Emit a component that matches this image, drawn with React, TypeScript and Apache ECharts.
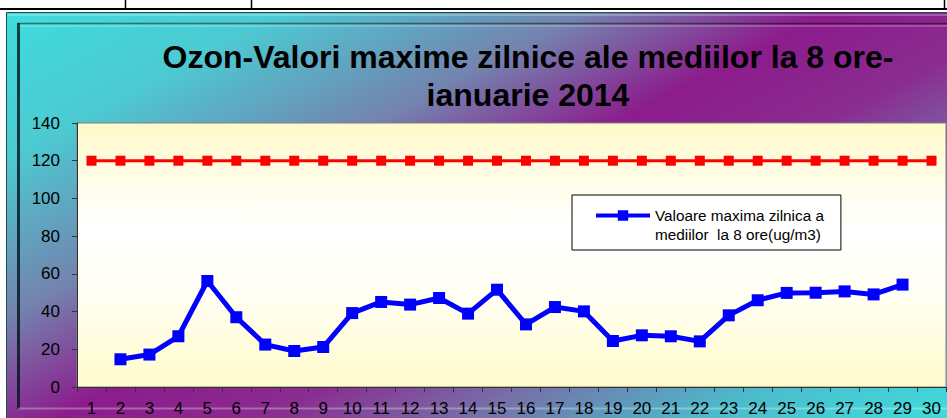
import React, { useEffect, useRef } from "react";
import * as echarts from "echarts";

const days = Array.from({ length: 30 }, (_, i) => String(i + 1));
const limitValues = [120, 120, 120, 120, 120, 120, 120, 120, 120, 120, 120, 120, 120, 120, 120, 120, 120, 120, 120, 120, 120, 120, 120, 120, 120, 120, 120, 120, 120, 120];
const ozoneValues = [null, 14.7, 17.2, 26.9, 56.2, 37.0, 22.5, 19.1, 21.2, 39.2, 45.1, 43.7, 47.2, 38.9, 51.6, 33.2, 42.4, 40.1, 24.4, 27.4, 26.9, 24.2, 38.0, 46.0, 49.9, 50.0, 50.7, 49.1, 54.3, null];
const titleText = "Ozon-Valori maxime zilnice ale mediilor la 8 ore-\nianuarie 2014";
const legendLine1 = "Valoare maxima zilnica a";
const legendLine2 = "mediilor  la 8 ore(ug/m3)";
const seriesName = "Valoare maxima zilnica a mediilor  la 8 ore(ug/m3)";

const FONT = '"Liberation Sans", Arial, sans-serif';

export default function App() {
  const ref = useRef<HTMLDivElement>(null);
  useEffect(() => {
    if (!ref.current) return;
    const chart = echarts.init(ref.current, null, { renderer: "svg" });
    const frameGradient = new echarts.graphic.LinearGradient(
      6, 12, 378, 718,
      [
        { offset: 0, color: "#3edcdc" },
        { offset: 0.16, color: "#4ccad2" },
        { offset: 0.34, color: "#7482ae" },
        { offset: 0.48, color: "#8c1c8c" },
        { offset: 0.6, color: "#8a2c90" },
        { offset: 0.72, color: "#7670a8" },
        { offset: 0.86, color: "#4cbccc" },
        { offset: 1, color: "#3edcdc" },
      ],
      true
    );
    const option: any = {
      animation: false,
      backgroundColor: "#ffffff",
      grid: {
        left: 77,
        right: 1,
        top: 123,
        bottom: 31,
        show: true,
        borderColor: "#808080",
        borderWidth: 1,
        backgroundColor: new echarts.graphic.LinearGradient(0, 0, 0, 1, [
          { offset: 0, color: "#fffacb" },
          { offset: 0.4, color: "#ffffff" },
          { offset: 0.65, color: "#fffef2" },
          { offset: 1, color: "#fffbcb" },
        ]),
      },
      legend: {
        data: [seriesName],
        left: 572,
        top: 195,
        itemWidth: 54,
        itemHeight: 13,
        padding: [13, 17, 27, 22],
        backgroundColor: "#ffffff",
        borderColor: "#000000",
        borderWidth: 1,
        selectedMode: false,
        formatter: () => legendLine1,
        lineStyle: { width: 4 },
        textStyle: { fontSize: 15.3, color: "#000", fontFamily: FONT },
      },
      xAxis: {
        type: "category",
        data: days,
        boundaryGap: true,
        axisLine: { lineStyle: { color: "#333333", width: 1 } },
        axisTick: { show: true, length: 5, lineStyle: { color: "#333333" } },
        axisLabel: { interval: 0, fontSize: 17, color: "#000", fontFamily: FONT, margin: 13 },
        splitLine: { show: false },
      },
      yAxis: {
        type: "value",
        min: 0,
        max: 140,
        interval: 20,
        axisLine: { show: true, lineStyle: { color: "#333333", width: 1 } },
        axisTick: { show: true, length: 5, lineStyle: { color: "#333333" } },
        axisLabel: { fontSize: 17, color: "#000", fontFamily: FONT, margin: 17 },
        splitLine: { show: false },
      },
      series: [
        {
          name: "Limita",
          type: "line",
          data: limitValues,
          symbol: "rect",
          symbolSize: 10,
          lineStyle: { color: "#ff0000", width: 3 },
          itemStyle: { color: "#ff0000" },
          z: 3,
        },
        {
          name: seriesName,
          type: "line",
          data: ozoneValues,
          symbol: "rect",
          symbolSize: 12,
          lineStyle: { color: "#0000ff", width: 5 },
          itemStyle: { color: "#0000ff" },
          z: 4,
        },
      ],
      graphic: [
        // document table strip
        { type: "line", shape: { x1: 0, y1: 9, x2: 947, y2: 9 }, style: { stroke: "#000", lineWidth: 2 }, z: -5 },
        { type: "line", shape: { x1: 125.5, y1: 0, x2: 125.5, y2: 9 }, style: { stroke: "#000", lineWidth: 1.5 }, z: -5 },
        { type: "line", shape: { x1: 251.5, y1: 0, x2: 251.5, y2: 9 }, style: { stroke: "#000", lineWidth: 1.5 }, z: -5 },
        { type: "line", shape: { x1: 944.5, y1: 0, x2: 944.5, y2: 9 }, style: { stroke: "#000", lineWidth: 1.5 }, z: -5 },
        // chart frame
        {
          type: "rect",
          shape: { x: 6.5, y: 12.5, width: 960, height: 420 },
          style: { fill: frameGradient, stroke: "#1d4f55", lineWidth: 1 },
          z: -10,
          silent: true,
        },
        { type: "line", shape: { x1: 8, y1: 15, x2: 947, y2: 15 }, style: { stroke: "rgba(255,255,255,0.25)", lineWidth: 2 }, z: -9 },
        { type: "line", shape: { x1: 18, y1: 23.5, x2: 947, y2: 23.5 }, style: { stroke: "rgba(0,0,0,0.45)", lineWidth: 1.5 }, z: -9 },
        { type: "line", shape: { x1: 18, y1: 26, x2: 947, y2: 26 }, style: { stroke: "rgba(255,255,255,0.2)", lineWidth: 2 }, z: -9 },
        { type: "line", shape: { x1: 18.5, y1: 23, x2: 18.5, y2: 409 }, style: { stroke: "rgba(0,20,30,0.8)", lineWidth: 3 }, z: -9 },
        { type: "line", shape: { x1: 18, y1: 408.5, x2: 947, y2: 408.5 }, style: { stroke: "rgba(255,255,255,0.3)", lineWidth: 2 }, z: -9 },
        // title
        {
          type: "text",
          x: 528,
          y: 38,
          style: {
            text: titleText,
            textAlign: "center",
            textVerticalAlign: "top",
            fontFamily: FONT,
            fontWeight: "bold",
            fontSize: 32,
            lineHeight: 38,
            fill: "#000",
          },
          z: 10,
        },
        // legend second line
        {
          type: "text",
          x: 655,
          y: 234,
          style: {
            text: legendLine2,
            textAlign: "left",
            textVerticalAlign: "middle",
            fontFamily: FONT,
            fontSize: 15.3,
            fill: "#000",
          },
          z: 100,
        },
      ],
    };
    chart.setOption(option);
    return () => chart.dispose();
  }, []);
  return (
    <div
      ref={ref}
      style={{ position: "absolute", left: 0, top: 0, width: 947, height: 418 }}
    />
  );
}
